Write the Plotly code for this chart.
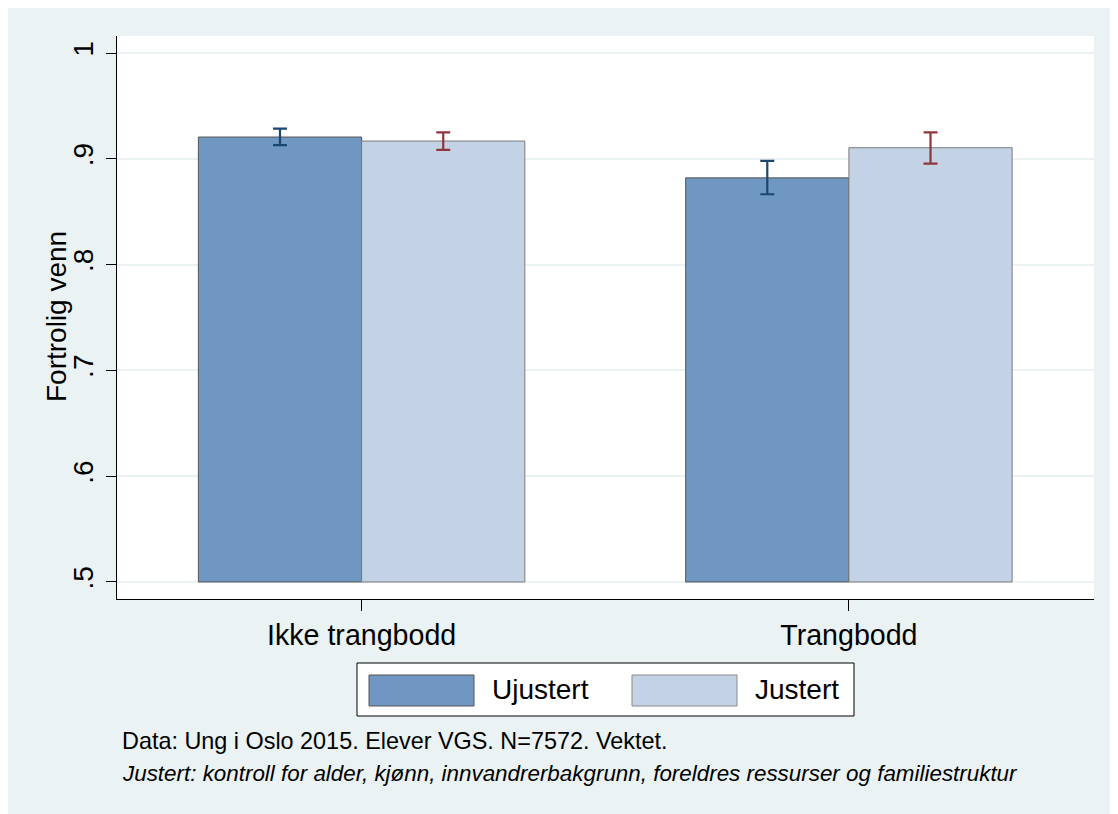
import plotly.graph_objects as go

categories = ["Ikke trangbodd", "Trangbodd"]
series_names = ["Ujustert", "Justert"]
ujustert = [0.9206, 0.8820]
ujustert_lo = [0.9130, 0.8665]
ujustert_hi = [0.9285, 0.8980]
justert = [0.9168, 0.9105]
justert_lo = [0.9085, 0.8955]
justert_hi = [0.9250, 0.9250]
y_ticks = [0.5, 0.6, 0.7, 0.8, 0.9, 1.0]
y_ticklabels = [".5", ".6", ".7", ".8", ".9", "1"]
y_title = "Fortrolig venn"
base_value = 0.5
note1 = "Data: Ung i Oslo 2015. Elever VGS. N=7572. Vektet."
note2 = "Justert: kontroll for alder, kjønn, innvandrerbakgrunn, foreldres ressurser og familiestruktur"

FONT = "Liberation Sans, Arial, sans-serif"
BG = "#EAF2F3"
C1, C2 = "#7096C2", "#C3D3E5"
E1, E2 = "#1A476F", "#90353B"

fig = go.Figure()
for name, vals, lo, hi, fill, line, ecol in [
    (series_names[0], ujustert, ujustert_lo, ujustert_hi, C1, "#555555", E1),
    (series_names[1], justert, justert_lo, justert_hi, C2, "#7a7a7a", E2),
]:
    fig.add_trace(go.Bar(
        name=name, x=[0, 1], y=[v - base_value for v in vals], base=base_value,
        marker=dict(color=fill, line=dict(color=line, width=1)),
        error_y=dict(type="data", symmetric=False,
                     array=[h - v for h, v in zip(hi, vals)],
                     arrayminus=[v - l for v, l in zip(vals, lo)],
                     color=ecol, thickness=2.2, width=7),
        showlegend=False,
        customdata=vals, hovertemplate="%{customdata:.3f}<extra>" + name + "</extra>",
    ))

OFF = 8  # page body margin
W, H = 1118, 814
PL, PR, PT, PB = 117, 1094, 36, 599  # plot area in page pixels
L, T = PL - OFF, PT - OFF
R, B = W - (PR - OFF), H - (PB - OFF)
pw, ph = PR - PL, PB - PT


def px(x):
    return (x - PL) / pw


def py(y):
    return (PB - y) / ph


shapes = [
    dict(type="rect", xref="paper", yref="paper", x0=px(357), x1=px(854), y0=py(716), y1=py(663),
         fillcolor="white", line=dict(color="black", width=1)),
    dict(type="rect", xref="paper", yref="paper", x0=px(369), x1=px(474), y0=py(706), y1=py(675),
         fillcolor=C1, line=dict(color="#555555", width=1)),
    dict(type="rect", xref="paper", yref="paper", x0=px(632), x1=px(737), y0=py(706), y1=py(675),
         fillcolor=C2, line=dict(color="#8a8a8a", width=1)),
]

annotations = [
    dict(xref="paper", yref="paper", x=px(490), y=py(690), xanchor="left", yanchor="middle",
         text=series_names[0], showarrow=False, font=dict(size=28, color="black", family=FONT)),
    dict(xref="paper", yref="paper", x=px(753), y=py(690), xanchor="left", yanchor="middle",
         text=series_names[1], showarrow=False, font=dict(size=28, color="black", family=FONT)),
    dict(xref="paper", yref="paper", x=px(120), y=py(741), xanchor="left", yanchor="middle",
         text=note1, showarrow=False, font=dict(size=23.4, color="black", family=FONT)),
    dict(xref="paper", yref="paper", x=px(120), y=py(773), xanchor="left", yanchor="middle",
         text="<i>" + note2 + "</i>", showarrow=False, font=dict(size=22.4, color="black", family=FONT)),
    dict(xref="paper", yref="paper", x=px(56), y=py(317), xanchor="center", yanchor="middle",
         text=y_title, textangle=-90, showarrow=False, font=dict(size=28, color="black", family=FONT)),
]

fig.update_layout(
    width=W, height=H,
    margin=dict(l=L, r=R, t=T, b=B, pad=0),
    paper_bgcolor=BG, plot_bgcolor="white",
    barmode="group", bargap=0.33, bargroupgap=0,
    font=dict(family=FONT, size=28, color="black"),
    shapes=shapes, annotations=annotations,
    xaxis=dict(
        range=[-0.502, 1.503], tickmode="array", tickvals=[0, 1], ticktext=categories,
        showgrid=False, zeroline=False, showline=True, linecolor="black", linewidth=1,
        ticks="outside", ticklen=11, tickcolor="black", tickwidth=1,
        tickfont=dict(size=28.6, family=FONT), ticklabelstandoff=0,
    ),
    yaxis=dict(
        range=[0.4839, 1.0161], tickmode="array", tickvals=y_ticks, ticktext=y_ticklabels,
        tickangle=-90, showgrid=True, gridcolor=BG, gridwidth=2, zeroline=False,
        showline=True, linecolor="black", linewidth=1,
        ticks="outside", ticklen=10, tickcolor="black", tickwidth=1,
        tickfont=dict(size=28, family=FONT), ticklabelstandoff=2,
    ),
)

fig.write_html("out.html")
